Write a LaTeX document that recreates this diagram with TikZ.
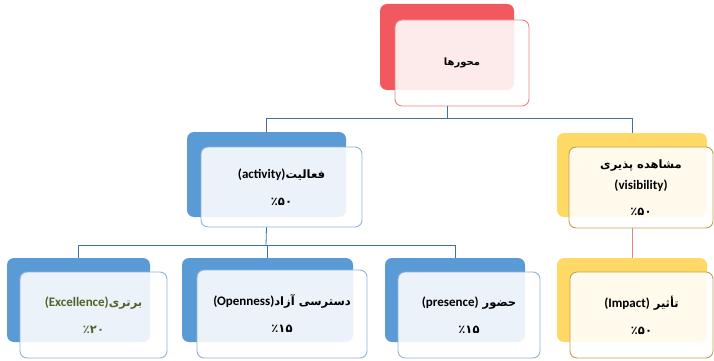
\documentclass[tikz,border=0pt]{standalone}
\usepackage{fontspec}
\usepackage{tikz}
\usetikzlibrary{calc,positioning}
\TeXXeTstate=1
\newfontfamily\arabicfont[Script=Arabic]{DejaVu Sans}
\newfontfamily\latinfont{Carlito}
\newcommand{\fa}[1]{{\arabicfont\bfseries\fontsize{11.5}{13}\selectfont\beginR #1\endR}}
\newcommand{\en}[1]{\beginL{\latinfont\bfseries\fontsize{13}{14}\selectfont #1}\endL}
\definecolor{axisred}{HTML}{F2595E}
\definecolor{axisredline}{HTML}{E88486}
\definecolor{actblue}{HTML}{5B9BD5}
\definecolor{actblueline}{HTML}{8FB3DC}
\definecolor{visyellow}{HTML}{FFD966}
\definecolor{visyellowline}{HTML}{BFA14F}
\definecolor{linkblue}{HTML}{41719C}
\definecolor{exgreen}{HTML}{4F6228}

\begin{document}
\begin{tikzpicture}[x=1pt,y=-1pt,
    back/.style={rounded corners=7pt, inner sep=0pt},
    front/.style={rounded corners=7pt, inner sep=0pt, fill=white, fill opacity=0.88,
                  text opacity=1, line width=0.9pt, align=center},
    redback/.style={back, fill=axisred},
    redfront/.style={front, draw=axisredline},
    blueback/.style={back, fill=actblue},
    bluefront/.style={front, draw=actblueline},
    yellowback/.style={back, fill=visyellow},
    yellowfront/.style={front, draw=visyellowline},
    link/.style={draw=linkblue, line width=0.8pt},
    redlink/.style={draw=axisredline, line width=0.8pt}]
  %\draw[color=gray,step=10pt,help lines,opacity=0.3] (0,0) grid (714,361); %help grids
  \useasboundingbox (0,0) rectangle (714,361);
  % top level
  \node[redback, minimum width=134pt, minimum height=86pt] (axesback) at (447,47) {};
  \node[redfront, minimum width=134pt, minimum height=86pt] (axes) at (462,63)
       {{\arabicfont\bfseries\fontsize{10}{12}\selectfont\beginR محورها\endR}};
  % second level
  \node[blueback, minimum width=159pt, minimum height=85pt] (activityback) at (266.5,174.5) {};
  \node[bluefront, minimum width=161pt, minimum height=80pt] (activity) at (281.5,187)
       {\fa{فعالیت\en{(activity)}}\\[15pt]\fa{٪۵۰}};
  \node[yellowback, minimum width=150pt, minimum height=84pt] (visibilityback) at (632,175) {};
  \node[yellowfront, minimum width=144pt, minimum height=81pt] (visibility) at (641,187.5)
       {\fa{مشاهده پذیری}\\[8pt]\en{(visibility)}\\[14pt]\fa{٪۵۰}};
  % third level
  \node[blueback, minimum width=143pt, minimum height=84pt] (excellenceback) at (78.5,300) {};
  \node[bluefront, minimum width=147pt, minimum height=86pt, text=exgreen] (excellence) at (93.5,315)
       {\fa{برتری\en{(Excellence)}}\\[15pt]\fa{٪۲۰}};
  \node[blueback, minimum width=171pt, minimum height=84pt] (opennessback) at (267.5,300) {};
  \node[bluefront, minimum width=170pt, minimum height=88pt] (openness) at (282,314)
       {\fa{دسترسی آزاد\en{(Openness)}}\\[15pt]\fa{٪۱۵}};
  \node[blueback, minimum width=140pt, minimum height=84pt] (presenceback) at (455,300) {};
  \node[bluefront, minimum width=142pt, minimum height=86pt] (presence) at (469,315)
       {\fa{حضور \en{(presence)}}\\[15pt]\fa{٪۱۵}};
  \node[yellowback, minimum width=150pt, minimum height=84pt] (impactback) at (632,300) {};
  \node[yellowfront, minimum width=143pt, minimum height=86pt] (impact) at (641.5,315)
       {\fa{تأثیر \en{(Impact)}}\\[15pt]\fa{٪۵۰}};
  % lines...
  \coordinate (busA) at (447,118);
  \coordinate (busB) at (266,245);
  \draw[link] (axesback.south |- axes.south) -- (busA);
  \draw[link] (activityback.north) -- (activityback.north |- busA) -- (visibilityback.north |- busA) -- (visibilityback.north);
  \draw[link] (activityback.south |- activity.south) -- (busB);
  \draw[link] (excellenceback.north) -- (excellenceback.north |- busB) -- (presenceback.north |- busB) -- (presenceback.north);
  \draw[link] (opennessback.north) -- (opennessback.north |- busB);
  \draw[redlink] (visibilityback.south |- visibility.south) -- (impactback.north);
\end{tikzpicture}
\end{document}
